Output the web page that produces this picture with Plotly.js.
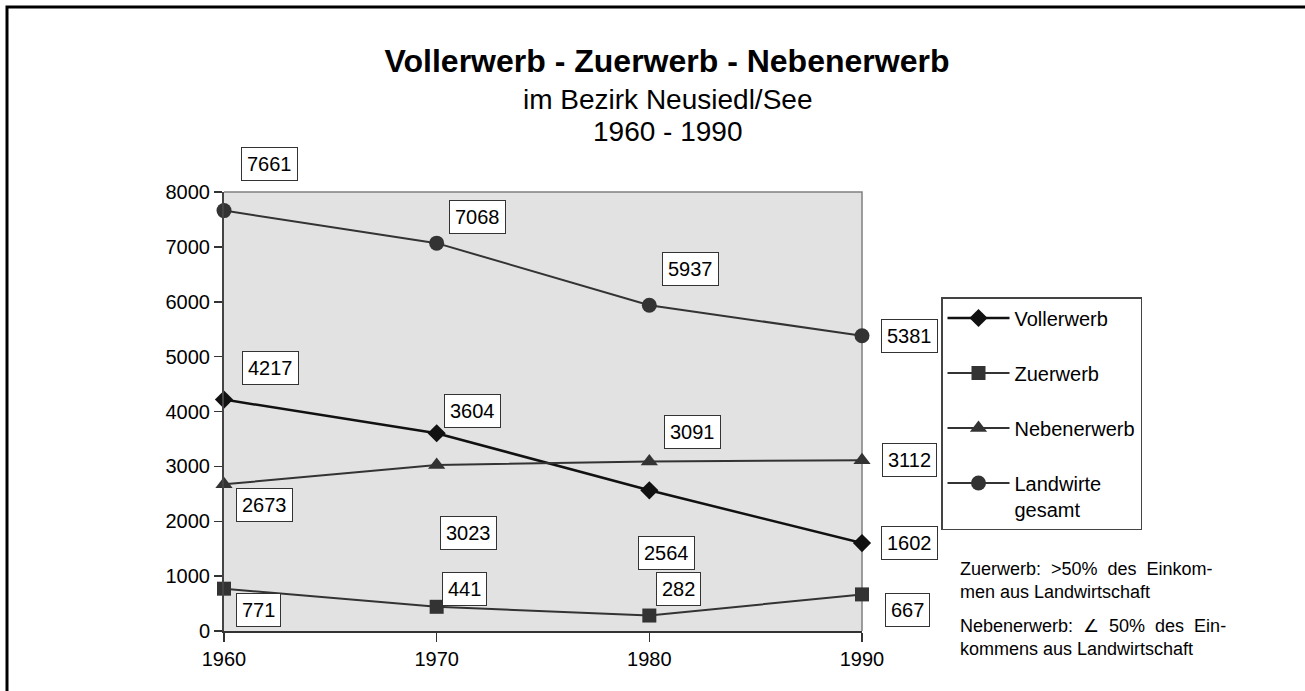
<!DOCTYPE html>
<html>
<head>
<meta charset="utf-8">
<script src="https://cdn.plot.ly/plotly-3.0.1.min.js"></script>
<style>
  html, body { margin: 0; padding: 0; background: #fff; overflow: hidden; }
  #chart { width: 1305px; height: 691px; }
</style>
</head>
<body>
<div id="chart"></div>
<script>
// ---- data ----
const years = [1960, 1970, 1980, 1990];
const vollerwerb = [4217, 3604, 2564, 1602];
const zuerwerb = [771, 441, 282, 667];
const nebenerwerb = [2673, 3023, 3091, 3112];
const landwirteGesamt = [7661, 7068, 5937, 5381];
const seriesNames = ["Vollerwerb", "Zuerwerb", "Nebenerwerb", "Landwirte<br>gesamt"];
const yTicks = [0, 1000, 2000, 3000, 4000, 5000, 6000, 7000, 8000];
const titleText = "Vollerwerb - Zuerwerb - Nebenerwerb";
const subtitle1 = "im Bezirk Neusiedl/See";
const subtitle2 = "1960 - 1990";
const note1 = "Zuerwerb:  >50%  des  Einkom-<br>men aus Landwirtschaft";
const note2 = "Nebenerwerb:  ∠  50%  des  Ein-<br>kommens aus Landwirtschaft";

// ---- styling (label offsets in px: [dx, dy-up]) ----
const FONT = "Liberation Sans, Arial, sans-serif";
const offsets = {
  "Vollerwerb": [[46, 32], [36, 22], [17, -63], [47, 0]],
  "Zuerwerb": [[34, -21], [28, 18], [29, 27], [45, -16]],
  "Nebenerwerb": [[40, -21], [32, -68], [43, 29], [47, 0]],
  "Landwirte": [[45, 47], [41, 26], [41, 36], [47, 0]]
};

const seriesData = [vollerwerb, zuerwerb, nebenerwerb, landwirteGesamt];
const offKeys = ["Vollerwerb", "Zuerwerb", "Nebenerwerb", "Landwirte"];
const styles = [
  {color: "#111111", width: 2.5, symbol: "diamond", size: 14},
  {color: "#333333", width: 2, symbol: "square", size: 14},
  {color: "#333333", width: 2, symbol: "triangle-up", size: 15},
  {color: "#333333", width: 2, symbol: "circle", size: 15}
];

const traces = seriesData.map((vals, i) => ({
  type: "scatter",
  mode: "lines+markers",
  x: years,
  y: vals,
  name: seriesNames[i],
  legendgroup: "g" + i,
  line: {color: styles[i].color, width: styles[i].width},
  marker: {symbol: styles[i].symbol, size: styles[i].size, color: styles[i].color},
  cliponaxis: false,
  hoverinfo: "x+y"
}));

const annotations = [];
seriesData.forEach((vals, i) => {
  vals.forEach((v, j) => {
    const o = offsets[offKeys[i]][j];
    annotations.push({
      x: years[j], y: v, xref: "x", yref: "y",
      text: String(v), showarrow: false,
      xshift: o[0], yshift: o[1],
      bgcolor: "#ffffff", bordercolor: "#333333", borderwidth: 1, borderpad: 5,
      font: {family: FONT, size: 20, color: "#000"}
    });
  });
});

// subtitles
annotations.push({
  xref: "paper", yref: "paper", x: (667 - 224) / 638, y: (631 - 99) / 439, xanchor: "center", yanchor: "middle",
  text: subtitle1, showarrow: false, font: {family: FONT, size: 28, color: "#000"}
});
annotations.push({
  xref: "paper", yref: "paper", x: (667 - 224) / 638, y: (631 - 131) / 439, xanchor: "center", yanchor: "middle",
  text: subtitle2, showarrow: false, font: {family: FONT, size: 28, color: "#000"}
});
// notes
annotations.push({
  xref: "paper", yref: "paper", x: (958 - 224) / 638, y: (631 - 580.5) / 439, xanchor: "left", yanchor: "middle",
  text: note1, align: "left", showarrow: false, font: {family: FONT, size: 18, color: "#000"}
});
annotations.push({
  xref: "paper", yref: "paper", x: (958 - 224) / 638, y: (631 - 637) / 439, xanchor: "left", yanchor: "middle",
  text: note2, align: "left", showarrow: false, font: {family: FONT, size: 18, color: "#000"}
});

const shapes = [
  // outer frame (top and left visible)
  {type: "path", xref: "paper", yref: "paper",
   path: "M " + ((7 - 224) / 638) + "," + ((631 - 800) / 439) + " L " + ((7 - 224) / 638) + "," + ((631 - 7) / 439) +
         " L " + ((1400 - 224) / 638) + "," + ((631 - 7) / 439),
   line: {color: "#000", width: 3}},
  // plot border top and right (gray)
  {type: "path", xref: "paper", yref: "paper", path: "M 0,1 L 1,1 L 1,0",
   line: {color: "#808080", width: 1.5}, layer: "below"}
];

const layout = {
  width: 1305, height: 691,
  margin: {l: 224, r: 443, t: 192, b: 60, pad: 0},
  paper_bgcolor: "#ffffff",
  plot_bgcolor: "#e2e2e2",
  font: {family: FONT, size: 20, color: "#000"},
  title: {
    text: "<b>" + titleText + "</b>",
    x: 667 / 1305, xanchor: "center",
    y: 1 - 61 / 691, yanchor: "middle",
    font: {family: FONT, size: 32, color: "#000"}
  },
  xaxis: {
    range: [1960, 1990], tickvals: years, ticktext: years.map(String),
    showgrid: false, zeroline: false, showline: true, linecolor: "#333", linewidth: 2,
    ticks: "outside", ticklen: 9, tickwidth: 1.5, tickcolor: "#333",
    tickfont: {family: FONT, size: 20, color: "#000"}, fixedrange: true
  },
  yaxis: {
    range: [0, 8000], tickvals: yTicks,
    showgrid: false, zeroline: false, showline: true, linecolor: "#444", linewidth: 2,
    ticks: "outside", ticklen: 8, tickwidth: 1.5, tickcolor: "#333",
    tickfont: {family: FONT, size: 20, color: "#000"}, fixedrange: true
  },
  legend: {
    x: (941 - 224) / 638, y: (631 - 297) / 439, xanchor: "left", yanchor: "top",
    bgcolor: "#ffffff", bordercolor: "#444", borderwidth: 1.5,
    font: {family: FONT, size: 20, color: "#000"},
    tracegroupgap: 26, valign: "top", itemwidth: 62
  },
  showlegend: true,
  annotations: annotations,
  shapes: shapes
};

Plotly.newPlot("chart", traces, layout, {displayModeBar: false, staticPlot: true});
</script>
</body>
</html>
